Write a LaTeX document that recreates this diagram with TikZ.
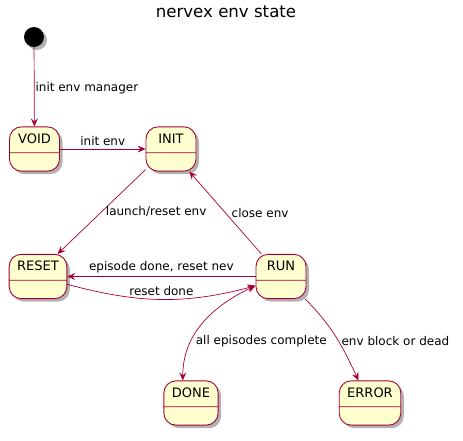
\documentclass[tikz,border=0pt]{standalone}
\usepackage{fontspec}
\setmainfont{DejaVu Sans}
\usetikzlibrary{arrows.meta,shapes.multipart,shadows}
\definecolor{umlred}{HTML}{A80036}
\definecolor{umlfill}{HTML}{FEFECE}
\tikzset{
  state/.style = {rectangle split, rectangle split parts = 2, draw = umlred, line width = .9pt,
    fill = umlfill, rounded corners = 12pt, minimum width = 50pt, inner xsep = 8pt, inner ysep = 6pt,
    text height = 10pt, text depth = 3pt, font = \fontsize{13}{15}\selectfont,
    drop shadow = {shadow xshift = 3pt, shadow yshift = -3pt, opacity = .3, fill = black}},
  trans/.style = {umlred, line width = .7pt, ->},
  lbl/.style = {font = \fontsize{12}{14}\selectfont, text = black, inner sep = 1pt}
}
\begin{document}
\begin{tikzpicture}[x = 1pt, y = 1pt, >={Stealth[length = 8pt, width = 7pt, inset = 3pt]}]
\useasboundingbox (0,0) rectangle (463,-441);
\node (title) at (226,-12) {\fontsize{16.6}{20}\selectfont nervex env state};
\node[circle, fill = black, minimum size = 20pt, inner sep = 0pt,
  drop shadow = {shadow xshift = 3pt, shadow yshift = -3pt, opacity = .3, fill = black}] (start) at (34,-37) {};
\node[state] (void) at (34.5,-149) {VOID \nodepart{two}\mbox{}};
\node[state] (init) at (171,-149) {INIT \nodepart{two}\mbox{}};
\node[state] (reset) at (38,-276.5) {RESET \nodepart{two}\mbox{}};
\node[state] (run) at (281,-276.5) {RUN \nodepart{two}\mbox{}};
\node[state] (done) at (191,-403) {DONE \nodepart{two}\mbox{}};
\node[state] (error) at (370,-403) {ERROR \nodepart{two}\mbox{}};

\draw[trans] (start) -- (void) node[lbl, right, pos = .52] {init env manager};
\draw[trans] (void) -- (init) node[lbl, above = 2pt, midway] {init env};
\draw[trans] (init.219) -- (reset.49) node[lbl, right = 3pt, midway] {launch/reset env};
\draw[trans] (run.131) -- (init.309) node[lbl, right = 5pt, midway] {close env};
\draw[trans] (run.west) -- (reset.east) node[lbl, above = 2pt, midway] {episode done, reset nev};
\draw[trans] (reset.-15) to[out = -15, in = 195] node[lbl, above = 2pt, midway] {reset done} (run.200);
\draw[trans, <->] (run.200) to[out = 205, in = 90] node[lbl, right = 3pt, pos = .68] {all episodes complete} (done.110);
\draw[trans] (run.317) to[out = -45, in = 115] node[lbl, right = 2pt, pos = .55] {env block or dead} (error.117);
\end{tikzpicture}
\end{document}
